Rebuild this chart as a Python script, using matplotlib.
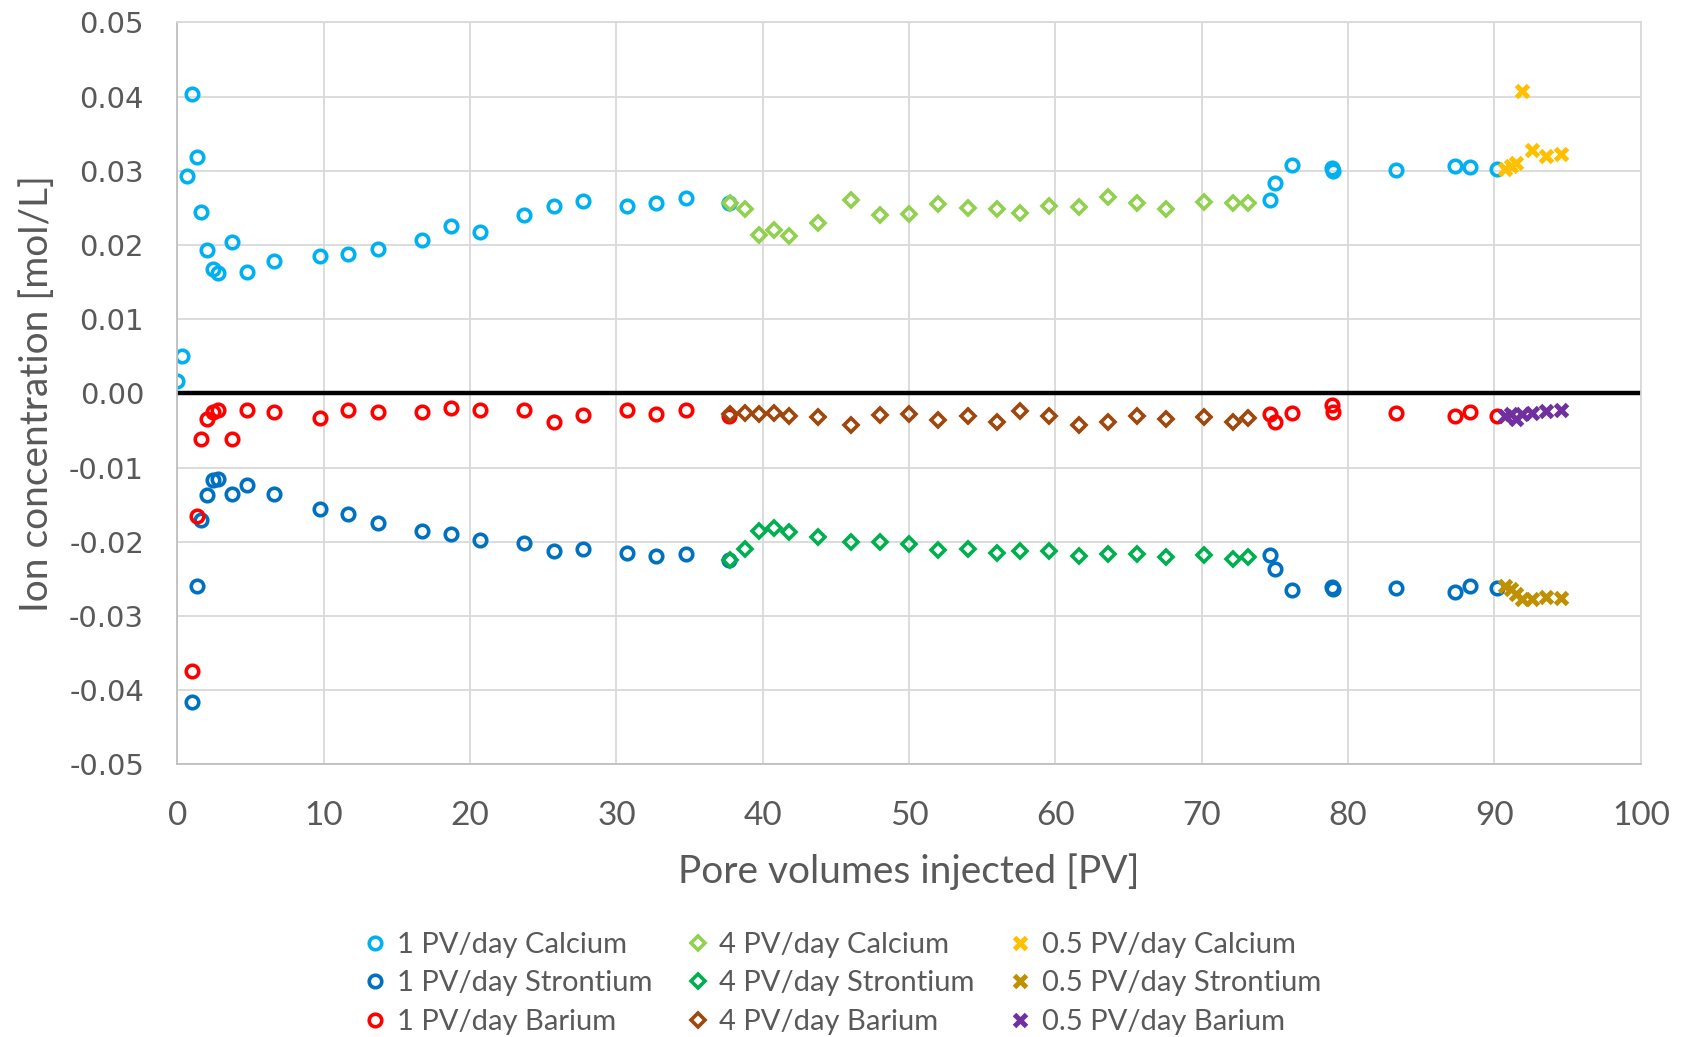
import numpy as np
import matplotlib
matplotlib.use("Agg")
import matplotlib.pyplot as plt

nan = np.nan

# 1 PV/day injection
pv_1 = [0.0, 0.32, 0.68, 0.98, 1.33, 1.64, 2.0, 2.46, 2.76, 3.74, 4.76, 6.63,
        9.73, 11.66, 13.71, 16.74, 18.68, 20.66, 23.72, 25.77, 27.72, 30.7,
        32.73, 34.73, 37.67, 74.66, 75.02, 76.15, 78.9, 78.94, 83.3, 87.28,
        88.33, 90.2]
ca_1 = [0.0017, 0.0051, 0.0293, 0.0404, 0.0318, 0.0245, 0.0193, 0.0168, 0.0162,
        0.0204, 0.0164, 0.0178, 0.0185, 0.0188, 0.0195, 0.0206, 0.0225, 0.0218,
        0.0241, 0.0252, 0.0259, 0.0253, 0.0256, 0.0263, 0.0257, 0.0260, 0.0283,
        0.0308, 0.0304, 0.0300, 0.0301, 0.0307, 0.0305, 0.0302]
sr_1 = [nan, nan, nan, -0.0416, -0.0259, -0.0170, -0.0137, -0.0117, -0.0116,
        -0.0135, -0.0124, -0.0135, -0.0156, -0.0162, -0.0174, -0.0186, -0.0189,
        -0.0197, -0.0202, -0.0213, -0.0210, -0.0215, -0.0219, -0.0217, -0.0224,
        -0.0218, -0.0236, -0.0265, -0.0261, -0.0264, -0.0262, -0.0267, -0.0259,
        -0.0262]
ba_1 = [nan, nan, nan, -0.0374, -0.0165, -0.0061, -0.0035, -0.0025, -0.0023,
        -0.0062, -0.0023, -0.0025, -0.0033, -0.0022, -0.0025, -0.0025, -0.0020,
        -0.0023, -0.0022, -0.0038, -0.0029, -0.0023, -0.0028, -0.0022, -0.0030,
        -0.0028, -0.0039, -0.0026, -0.0015, -0.0025, -0.0027, -0.0030, -0.0025,
        -0.0031]

# 4 PV/day injection
pv_4 = [37.76, 38.76, 39.77, 40.76, 41.76, 43.77, 46.0, 48.0, 50.0, 52.0, 54.0,
        56.0, 57.6, 59.56, 61.6, 63.58, 65.59, 67.55, 70.16, 72.15, 73.14]
ca_4 = [0.0256, 0.0248, 0.0213, 0.0220, 0.0212, 0.0229, 0.0260, 0.0240, 0.0242,
        0.0255, 0.0250, 0.0249, 0.0243, 0.0252, 0.0251, 0.0265, 0.0257, 0.0249,
        0.0258, 0.0256, 0.0256]
sr_4 = [-0.0224, -0.0209, -0.0186, -0.0181, -0.0187, -0.0193, -0.0200, -0.0200,
        -0.0203, -0.0211, -0.0209, -0.0215, -0.0212, -0.0213, -0.0219, -0.0216,
        -0.0216, -0.0220, -0.0218, -0.0223, -0.0220]
ba_4 = [-0.0028, -0.0026, -0.0028, -0.0026, -0.0030, -0.0032, -0.0042, -0.0029,
        -0.0028, -0.0036, -0.0030, -0.0038, -0.0024, -0.0031, -0.0042, -0.0038,
        -0.0030, -0.0035, -0.0032, -0.0039, -0.0033]

# 0.5 PV/day injection
pv_05 = [90.7, 91.1, 91.45, 91.9, 92.55, 93.5, 94.55]
ca_05 = [0.0303, 0.0306, 0.0310, 0.0408, 0.0328, 0.0320, 0.0323]
sr_05 = [-0.0259, -0.0264, -0.0270, -0.0277, -0.0277, -0.0275, -0.0276]
ba_05 = [-0.0030, -0.0028, -0.0035, -0.0028, -0.0027, -0.0024, -0.0023]

grey = "#595959"
calibri = ["Lato", "DejaVu Sans"]

fig = plt.figure(figsize=(16.86, 10.37), dpi=100)
ax = fig.add_axes([0.1052, 0.2628, 0.868, 0.7157])

circ = dict(linestyle="none", marker="o", markersize=9, markeredgewidth=2.6,
            markerfacecolor="none")
diam = dict(linestyle="none", marker="D", markersize=7.5, markeredgewidth=2.6,
            markerfacecolor="none")
cross = dict(linestyle="none", marker="x", markersize=8.5, markeredgewidth=3.6)

ax.plot(pv_1, ca_1, color="#00B0F0", label="1 PV/day Calcium", **circ)
ax.plot(pv_1, sr_1, color="#0070C0", label="1 PV/day Strontium", **circ)
ax.plot(pv_1, ba_1, color="#FF0000", label="1 PV/day Barium", **circ)
ax.plot(pv_4, ca_4, color="#92D050", label="4 PV/day Calcium", **diam)
ax.plot(pv_4, sr_4, color="#00B050", label="4 PV/day Strontium", **diam)
ax.plot(pv_4, ba_4, color="#9E480E", label="4 PV/day Barium", **diam)
ax.plot(pv_05, ca_05, color="#FFC000", label="0.5 PV/day Calcium", **cross)
ax.plot(pv_05, sr_05, color="#BF9000", label="0.5 PV/day Strontium", **cross)
ax.plot(pv_05, ba_05, color="#7030A0", label="0.5 PV/day Barium", **cross)

ax.axhline(0, color="black", linewidth=3.2, zorder=1)

ax.set_xlim(0, 100)
ax.set_ylim(-0.05, 0.05)
ax.set_xticks(np.arange(0, 101, 10))
ax.set_yticks(np.arange(-0.05, 0.051, 0.01))
ax.set_yticklabels([f"{v:.2f}" for v in np.arange(-0.05, 0.051, 0.01)])
ax.grid(True, color="#D9D9D9", linewidth=1.3)
ax.set_axisbelow(True)
for s in ax.spines.values():
    s.set_color("#D9D9D9")
    s.set_linewidth(1.3)
ax.spines["left"].set_color("#BFBFBF")
ax.spines["bottom"].set_color("#BFBFBF")
ax.tick_params(length=0, colors=grey)
ax.tick_params(axis="x", pad=26, labelsize=24)
ax.tick_params(axis="y", pad=24, labelsize=21)
for lab in ax.get_xticklabels():
    lab.set_family(calibri)
for lab in ax.get_yticklabels():
    lab.set_family("DejaVu Sans")

ax.set_xlabel("Pore volumes injected [PV]", fontsize=28, color=grey,
              family=calibri, labelpad=16)
ax.set_ylabel("Ion concentration [mol/L]", fontsize=28, color=grey,
              family=calibri, labelpad=10)

leg = fig.legend(loc="upper center", ncol=3, frameon=False,
                 handlelength=0.7, handletextpad=0.4, columnspacing=1.2,
                 labelspacing=0.42, prop={"family": calibri, "size": 21})
for t in leg.get_texts():
    t.set_color(grey)
leg.set_bbox_to_anchor((0.5, 1 - 906 / 1037), transform=fig.transFigure)

fig.savefig("out.png", dpi=100)
